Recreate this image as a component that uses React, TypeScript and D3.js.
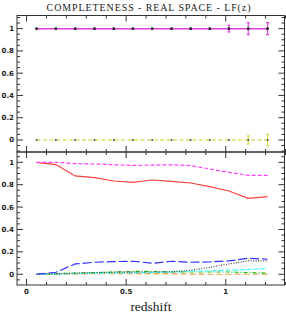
import * as d3 from 'd3';

// redshift bins
const zBins = [0.05, 0.147, 0.244, 0.341, 0.438, 0.534, 0.631, 0.728, 0.824, 0.92, 1.016, 1.113, 1.21];

// top panel
const topOne = [1, 1, 1, 1, 1, 1, 1, 1, 1, 1, 1, 1, 1];
const topOneErr = [0, 0, 0, 0, 0, 0, 0, 0, 0, 0, 0.03, 0.054, 0.054];
const topZero = [0, 0, 0, 0, 0, 0, 0, 0, 0, 0, 0, 0, 0];
const topZeroErr = [0, 0, 0, 0, 0, 0, 0, 0, 0, 0, 0, 0.036, 0.052];

// bottom panel
const magentaDash = [1.0, 1.0, 0.988, 0.985, 0.978, 0.972, 0.975, 0.978, 0.97, 0.94, 0.91, 0.884, 0.884];
const redSolid = [1.0, 0.98, 0.878, 0.863, 0.833, 0.821, 0.842, 0.83, 0.815, 0.782, 0.744, 0.678, 0.693];
const blueDash = [0.0, 0.018, 0.092, 0.107, 0.113, 0.116, 0.098, 0.116, 0.107, 0.11, 0.119, 0.143, 0.134];
const blackDot = [0.0, 0.004, 0.01, 0.014, 0.018, 0.02, 0.02, 0.022, 0.035, 0.062, 0.092, 0.12, 0.12];
const cyanDash = [0.0, 0.002, 0.006, 0.008, 0.01, 0.014, 0.015, 0.02, 0.025, 0.03, 0.036, 0.042, 0.052];
const greenDashDot = [0.0, 0.005, 0.01, 0.015, 0.02, 0.025, 0.025, 0.022, 0.02, 0.02, 0.02, 0.015, 0.01];
const orangeDash = [0.0, 0.0, 0.002, 0.005, 0.005, 0.005, 0.005, 0.005, 0.002, 0.0, 0.0, 0.0, 0.0];

const xTicks = [0, 0.5, 1];
const yTicks = [0, 0.2, 0.4, 0.6, 0.8, 1];

const W = 286;
const H = 314;
const left = 17;
const right = 284.5;
const top = 15.5;
const mid = 152;
const bottom = 285;

const x = d3.scaleLinear().domain([-0.048, 1.295]).range([left, right]);
const yTop = d3.scaleLinear().domain([-0.108, 1.118]).range([mid, top]);
const yBot = d3.scaleLinear().domain([-0.096, 1.092]).range([bottom, mid]);

type Series = { values: number[]; color: string; dash: string };

const bottomSeries: Series[] = [
  { values: orangeDash, color: '#e8a040', dash: '6,3' },
  { values: greenDashDot, color: '#20c020', dash: '4,2,1,2' },
  { values: cyanDash, color: '#40ffff', dash: '5,2' },
  { values: blackDot, color: '#404040', dash: '1,1.5' },
  { values: blueDash, color: '#3030ff', dash: '9,3' },
  { values: redSolid, color: '#ff4040', dash: '' },
  { values: magentaDash, color: '#ff40ff', dash: '4,2' },
];

function Frame({ y, y0, y1, showX }: { y: d3.ScaleLinear<number, number>; y0: number; y1: number; showX: boolean }) {
  const minorX = d3.range(0, 1.31, 0.1);
  const minorY = d3.range(-0.05, 1.11, 0.05);
  return (
    <g stroke="#333" strokeWidth={1} fill="none">
      <rect x={left} y={y1} width={right - left} height={y0 - y1} />
      {minorX.map((v) => {
        const major = xTicks.some((t) => Math.abs(t - v) < 1e-6);
        const len = major ? 6 : 3;
        return (
          <g key={'x' + v}>
            <line x1={x(v)} x2={x(v)} y1={y0} y2={y0 - len} />
            <line x1={x(v)} x2={x(v)} y1={y1} y2={y1 + len} />
          </g>
        );
      })}
      {minorY.map((v) => {
        const major = yTicks.some((t) => Math.abs(t - v) < 1e-6);
        const len = major ? 6 : 3;
        return (
          <g key={'y' + v}>
            <line x1={left} x2={left + len} y1={y(v)} y2={y(v)} />
            <line x1={right} x2={right - len} y1={y(v)} y2={y(v)} />
          </g>
        );
      })}
      {yTicks.map((t) => (
        <text key={'l' + t} x={left - 3} y={y(t)} dy="0.35em" textAnchor="end" fill="#222" stroke="none"
          fontSize={7} fontFamily="DejaVu Sans" fontWeight="bold">
          {t === 0 || t === 1 ? String(t) : t.toFixed(1)}
        </text>
      ))}
      {showX && xTicks.map((t) => (
        <text key={'xl' + t} x={x(t)} y={y0 + 9} textAnchor="middle" fill="#222" stroke="none"
          fontSize={7} fontFamily="DejaVu Sans" fontWeight="bold">
          {String(t)}
        </text>
      ))}
    </g>
  );
}

function ErrorBars({ values, errs, y, color }: { values: number[]; errs: number[]; y: d3.ScaleLinear<number, number>; color: string }) {
  return (
    <g stroke={color} strokeWidth={1.2}>
      {values.map((v, i) => errs[i] > 0 ? (
        <g key={i}>
          <line x1={x(zBins[i])} x2={x(zBins[i])} y1={y(v - errs[i])} y2={y(v + errs[i])} />
          <line x1={x(zBins[i]) - 1.5} x2={x(zBins[i]) + 1.5} y1={y(v - errs[i])} y2={y(v - errs[i])} />
          <line x1={x(zBins[i]) - 1.5} x2={x(zBins[i]) + 1.5} y1={y(v + errs[i])} y2={y(v + errs[i])} />
        </g>
      ) : null)}
    </g>
  );
}

export default function App() {
  const lineTop = d3.line<number>().x((_, i) => x(zBins[i])).y((d) => yTop(d));
  const lineBot = d3.line<number>().x((_, i) => x(zBins[i])).y((d) => yBot(d));
  return (
    <svg width={W} height={H} style={{ position: 'absolute', left: 0, top: 0, background: '#fff' }}>
      <text x={149} y={11} textAnchor="middle" fontSize={10} letterSpacing={0.9} fontFamily="Liberation Serif" fill="#222">
        COMPLETENESS - REAL SPACE - LF(z)
      </text>
      <Frame y={yTop} y0={mid} y1={top} showX={false} />
      <Frame y={yBot} y0={bottom} y1={mid} showX={true} />

      {/* top panel */}
      <path d={lineTop(topOne) ?? ''} fill="none" stroke="#e040e0" strokeWidth={1.5} />
      <ErrorBars values={topOne} errs={topOneErr} y={yTop} color="#e040e0" />
      {topOne.map((v, i) => (
        <rect key={'a' + i} x={x(zBins[i]) - 1.2} y={yTop(v) - 1.2} width={2.4} height={2.4} fill="#111" />
      ))}
      <path d={lineTop(topZero) ?? ''} fill="none" stroke="#d0d020" strokeWidth={1.2} strokeDasharray="4,2.5" />
      <ErrorBars values={topZero} errs={topZeroErr} y={yTop} color="#d8d840" />
      {topZero.map((v, i) => (
        <rect key={'b' + i} x={x(zBins[i]) - 0.8} y={yTop(v) - 0.8} width={1.6} height={1.6} fill="#333" />
      ))}

      {/* bottom panel */}
      {bottomSeries.map((s, i) => (
        <path key={i} d={lineBot(s.values) ?? ''} fill="none" stroke={s.color} strokeWidth={1.2}
          strokeDasharray={s.dash || undefined} />
      ))}

      <text x={151} y={311} textAnchor="middle" fontSize={13.5} fontFamily="Liberation Serif" fill="#222">
        redshift
      </text>
    </svg>
  );
}
